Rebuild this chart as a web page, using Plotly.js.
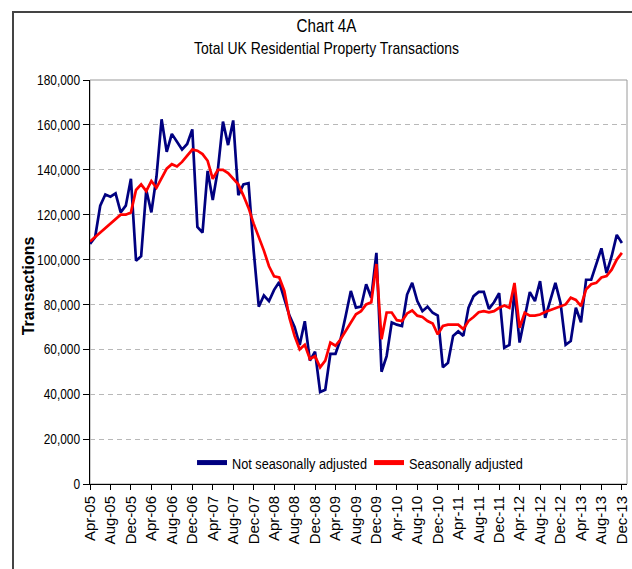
<!DOCTYPE html>
<html><head><meta charset="utf-8">
<script src="https://cdn.plot.ly/plotly-3.0.1.min.js"></script>
<style>
html,body{margin:0;padding:0;background:#fff;}
#wrap{position:relative;width:632px;height:569px;overflow:hidden;}
#chart{position:absolute;left:0;top:0;width:632px;height:569px;}
#frame{position:absolute;left:12px;top:11px;width:700px;height:700px;border-left:2px solid #444;border-top:2px solid #444;pointer-events:none;}
</style></head>
<body><div id="wrap"><div id="chart"></div><div id="frame"></div></div>
<script>
const months = [
 "Apr-05","May-05","Jun-05","Jul-05","Aug-05","Sep-05","Oct-05","Nov-05","Dec-05",
 "Jan-06","Feb-06","Mar-06","Apr-06","May-06","Jun-06","Jul-06","Aug-06","Sep-06","Oct-06","Nov-06","Dec-06",
 "Jan-07","Feb-07","Mar-07","Apr-07","May-07","Jun-07","Jul-07","Aug-07","Sep-07","Oct-07","Nov-07","Dec-07",
 "Jan-08","Feb-08","Mar-08","Apr-08","May-08","Jun-08","Jul-08","Aug-08","Sep-08","Oct-08","Nov-08","Dec-08",
 "Jan-09","Feb-09","Mar-09","Apr-09","May-09","Jun-09","Jul-09","Aug-09","Sep-09","Oct-09","Nov-09","Dec-09",
 "Jan-10","Feb-10","Mar-10","Apr-10","May-10","Jun-10","Jul-10","Aug-10","Sep-10","Oct-10","Nov-10","Dec-10",
 "Jan-11","Feb-11","Mar-11","Apr-11","May-11","Jun-11","Jul-11","Aug-11","Sep-11","Oct-11","Nov-11","Dec-11",
 "Jan-12","Feb-12","Mar-12","Apr-12","May-12","Jun-12","Jul-12","Aug-12","Sep-12","Oct-12","Nov-12","Dec-12",
 "Jan-13","Feb-13","Mar-13","Apr-13","May-13","Jun-13","Jul-13","Aug-13","Sep-13","Oct-13","Nov-13","Dec-13"
];

const notSeasonallyAdjusted = [
 107000,110000,124000,129000,128000,129500,121000,124000,136000,
 99500,101500,131000,121000,137000,162500,148000,156000,152500,149000,151500,158000,
 114500,112000,139500,126500,140000,161500,151000,162000,128700,133500,134000,104000,
 79000,84000,81500,86500,90000,83000,75000,70000,62000,72500,55000,59000,
 41000,42000,58000,58000,64500,75000,86000,78600,79000,89000,83000,103000,
 50000,57000,72000,71000,70400,84400,89600,81500,77000,79000,76300,75000,
 52000,54000,66000,68000,66000,78500,83700,85600,85600,78000,81000,85000,
 60700,62000,86000,63000,75000,85500,81500,90400,74000,81500,89600,80700,
 62000,63700,78500,72000,91000,91000,98500,105000,94000,101500,111000,107400
];

const seasonallyAdjusted = [
 108000,110000,112000,114000,116000,118000,120000,120000,121000,
 131000,133500,130500,135000,132000,136000,140500,142500,141500,143500,146500,149000,
 148500,147000,144000,136000,140000,140000,138500,136000,133500,128500,123000,116000,
 110000,104000,97000,92500,92000,86000,74000,66000,60000,62000,55700,57000,
 52000,55000,63000,61600,64500,68000,72000,75600,77000,80000,81000,98000,
 64500,76400,76400,73000,72600,76000,77300,75000,74400,72600,71500,66700,
 70400,71000,71000,71000,69000,72600,74400,76500,77000,76500,77000,78500,
 79500,78500,89600,69600,76300,75000,75000,75500,76600,77500,78500,79300,
 80000,83000,82000,79300,86700,89000,89600,92000,92600,95500,100000,103000
];

const tickLabels = [
 "Apr-05","Aug-05","Dec-05","Apr-06","Aug-06","Dec-06","Apr-07","Aug-07","Dec-07",
 "Apr-08","Aug-08","Dec-08","Apr-09","Aug-09","Dec-09","Apr-10","Aug-10","Dec-10",
 "Apr-11","Aug-11","Dec-11","Apr-12","Aug-12","Dec-12","Apr-13","Aug-13","Dec-13"
];
const yTickValues = [0,20000,40000,60000,80000,100000,120000,140000,160000,180000];

const SANS = "'Liberation Sans', Arial, sans-serif";
const SQUEEZE = 0.82;

const traces = [
 {x: months, y: notSeasonallyAdjusted, type: 'scatter', mode: 'lines',
  name: 'Not seasonally adjusted', legendwidth: 132, line: {color: '#000080', width: 2.7}},
 {x: months, y: seasonallyAdjusted, type: 'scatter', mode: 'lines',
  name: 'Seasonally adjusted', legendwidth: 118, line: {color: '#ff0000', width: 2.7}}
];

const tickPos = tickLabels.map(l => months.indexOf(l));

const layout = {
 width: 632, height: 569,
 margin: {l: 90, r: 5, t: 80, b: 85, pad: 0},
 paper_bgcolor: '#ffffff', plot_bgcolor: '#ffffff',
 showlegend: true,
 legend: {orientation: 'h', x: 0.19, xanchor: 'left', y: 0.052, yanchor: 'middle',
  font: {family: SANS, size: 15.5, color: '#000'}, bgcolor: 'rgba(0,0,0,0)',
  itemwidth: 30, tracegroupgap: 0, itemsizing: 'constant'},
 xaxis: {type: 'category', range: [0, 105], tickmode: 'array', tickvals: tickLabels, ticktext: tickLabels,
  tickangle: -90, ticks: 'outside', ticklen: 5, tickcolor: '#000', tickwidth: 1,
  showline: true, linecolor: '#000', linewidth: 1, showgrid: false, zeroline: false,
  tickfont: {family: SANS, size: 15, color: '#000'}, fixedrange: true},
 xaxis2: {type: 'linear', overlaying: 'x', anchor: 'y', side: 'bottom', range: [0, 105],
  tickmode: 'array', tickvals: tickPos, ticks: 'inside', ticklen: 5, tickcolor: '#000', tickwidth: 1,
  showticklabels: false, showline: false, showgrid: false, zeroline: false},
 yaxis: {range: [0, 180000], tickmode: 'array', tickvals: yTickValues, tickformat: ',',
  ticks: 'outside', ticklen: 6, tickcolor: '#000', tickwidth: 1,
  showline: true, linecolor: '#000', linewidth: 1,
  showgrid: true, gridcolor: '#b8b8b8', gridwidth: 1, griddash: '5px,4px', zeroline: false,
  tickfont: {family: SANS, size: 14.5, color: '#000'}, fixedrange: true},
 shapes: [{type: 'rect', xref: 'paper', yref: 'paper', x0: 0, x1: 1, y0: 0, y1: 1,
  line: {color: '#9a9a9a', width: 1}, layer: 'below'}],
 annotations: [
  {text: 'Chart 4A', xref: 'paper', yref: 'paper', x: 0.441, y: 1.136, xanchor: 'center', yanchor: 'middle',
   showarrow: false, font: {family: SANS, size: 18.5, color: '#000'}},
  {text: 'Total UK Residential Property Transactions', xref: 'paper', yref: 'paper', x: 0.441, y: 1.079,
   xanchor: 'center', yanchor: 'middle', showarrow: false, font: {family: SANS, size: 17, color: '#000'}},
  {text: '<b>Transactions</b>', xref: 'paper', yref: 'paper', x: -0.115, y: 0.49, xanchor: 'center', yanchor: 'middle',
   textangle: -90, showarrow: false, font: {family: SANS, size: 16, color: '#000'}}
 ]
};

function condense(el) {
 const w = el.getComputedTextLength();
 if (w > 0) {
  el.setAttribute('textLength', (w * SQUEEZE).toFixed(2));
  el.setAttribute('lengthAdjust', 'spacingAndGlyphs');
 }
}

Plotly.newPlot('chart', traces, layout, {displayModeBar: false, staticPlot: true}).then(gd => {
 gd.querySelectorAll('.ytick text, .legendtext').forEach(condense);
 const ann = gd.querySelectorAll('.annotation-text');
 ann.forEach((t, i) => { if (i < 2) condense(t); });
});
</script>
</body></html>
